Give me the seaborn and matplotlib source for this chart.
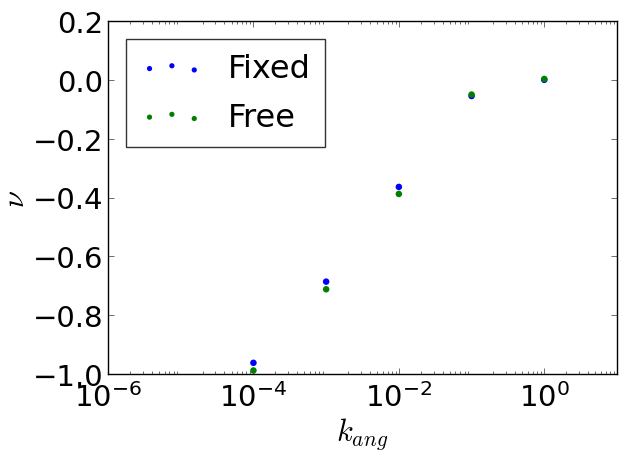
import matplotlib
matplotlib.use("Agg")
import matplotlib.pyplot as plt
import matplotlib.ticker as mticker
import seaborn as sns
import pandas as pd

k_ang = [1e-4, 1e-3, 1e-2, 1e-1, 1e0]
nu_fixed = [-0.962, -0.686, -0.364, -0.055, 0.0]
nu_free = [-0.988, -0.712, -0.388, -0.050, 0.003]
series_labels = ["Fixed", "Free"]

sns.set_style("white")
plt.rcParams.update({
    "font.family": ["DejaVu Sans"],
    "mathtext.fontset": "cm",
    "axes.edgecolor": "black",
    "axes.linewidth": 1.0,
    "text.color": "black",
    "axes.labelcolor": "black",
    "xtick.color": "black",
    "ytick.color": "black",
})

fig = plt.figure(figsize=(6.19, 4.52), dpi=100)
ax = fig.add_axes([108/619, 77/452, 509/619, 353/452])

df_fixed = pd.DataFrame({"k": k_ang, "nu": nu_fixed})
df_free = pd.DataFrame({"k": k_ang, "nu": nu_free})
sns.scatterplot(data=df_fixed, x="k", y="nu", ax=ax, color=(0, 0, 1), s=22,
                edgecolor="none", label=series_labels[0])
sns.scatterplot(data=df_free, x="k", y="nu", ax=ax, color=(0, 0.5, 0), s=22,
                edgecolor="none", label=series_labels[1])

ax.set_xscale("log")
ax.set_xlim(1e-6, 1e1)
ax.set_ylim(-1.0, 0.2)
ax.set_xticks([1e-6, 1e-4, 1e-2, 1e0])
ax.xaxis.set_minor_locator(mticker.LogLocator(base=10, subs=[2, 3, 4, 5, 6, 7, 8, 9], numticks=100))
ax.xaxis.set_minor_formatter(mticker.NullFormatter())
ax.set_yticks([-1.0, -0.8, -0.6, -0.4, -0.2, 0.0, 0.2])
ax.set_yticklabels(["\u22121.0", "\u22120.8", "\u22120.6", "\u22120.4", "\u22120.2", "0.0", "0.2"])
ax.tick_params(axis="both", which="both", direction="in", top=True, right=True,
               bottom=True, left=True, labelsize=21, color="#555555", width=0.6,
               labelcolor="black")
ax.tick_params(axis="both", which="major", length=4)
ax.tick_params(axis="both", which="minor", length=2)
ax.tick_params(axis="x", which="major", pad=6)
ax.set_xlabel("$k_{ang}$", fontsize=22, labelpad=2, color="black")
ax.set_ylabel("$\\nu$", fontsize=22, labelpad=2, color="black")

leg = ax.legend(loc="upper left", scatterpoints=3, scatteryoffsets=[0.375, 0.5, 0.3125],
                markerscale=0.8, fontsize=23, fancybox=False, frameon=True,
                borderaxespad=0.55, handletextpad=0.75, labelspacing=0.55,
                handlelength=2.0, borderpad=0.45)
leg.get_frame().set_edgecolor("black")
leg.get_frame().set_linewidth(1.0)
for t in leg.get_texts():
    t.set_color("black")

fig.savefig("out.png", dpi=100)
